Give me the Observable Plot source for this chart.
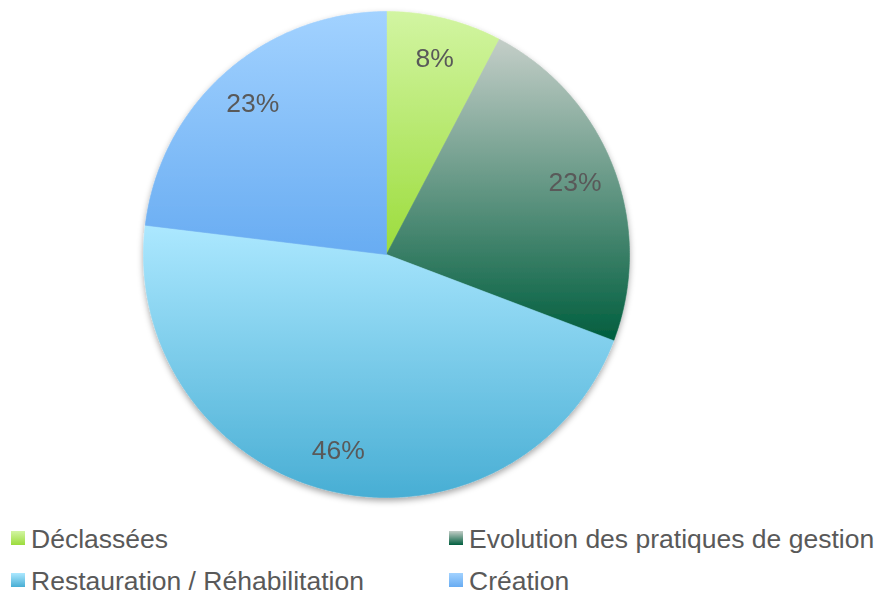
<!DOCTYPE html>
<html>
<head>
<meta charset="utf-8">
<script src="https://cdn.jsdelivr.net/npm/d3@7"></script>
<script src="https://cdn.jsdelivr.net/npm/@observablehq/plot@0.6"></script>
<style>
  html, body { margin: 0; padding: 0; background: #fff; }
  #wrap { position: relative; width: 880px; height: 594px; overflow: hidden; font-family: "Liberation Sans", Arial, sans-serif; }
  .leg { position: absolute; display: flex; align-items: flex-start; font-size: 26.5px; line-height: 26px; color: #595959; white-space: nowrap; }
  .sw { width: 14px; height: 14px; margin-top: 5px; margin-right: 6px; }
</style>
</head>
<body>
<div id="wrap"></div>
<script>
const categories = ["Déclassées", "Evolution des pratiques de gestion", "Restauration / Réhabilitation", "Création"];
const values = [1, 3, 6, 3];
const labels = ["8%", "23%", "46%", "23%"];
const gradTop = ["#d2f5a2", "#c4cec8", "#ace8ff", "#a2d2ff"];
const gradBottom = ["#9cdc3c", "#005e3e", "#48aed4", "#68acf2"];

const pie = d3.pie().sort(null).value(d => d.value).startAngle(0).endAngle(2 * Math.PI);
const arcs = pie(categories.map((c, i) => ({key: c, value: values[i], i})));

function slicePoints(a) {
  const pts = [{x: 0, y: 0}];
  const n = Math.max(4, Math.ceil((a.endAngle - a.startAngle) / 0.01));
  for (let k = 0; k <= n; k++) {
    const t = a.startAngle + (a.endAngle - a.startAngle) * k / n;
    pts.push({x: Math.sin(t), y: Math.cos(t)});
  }
  pts.push({x: 0, y: 0});
  return pts;
}

const labelData = arcs.map((a, i) => {
  const m = (a.startAngle + a.endAngle) / 2;
  return {x: 0.83 * Math.sin(m), y: 0.83 * Math.cos(m), text: labels[i]};
});

const cx = 386, cy = 254, R = 243;

const marks = arcs.map((a, i) => Plot.line(slicePoints(a), {
  x: "x", y: "y", fill: `url(#g${i})`, stroke: `url(#g${i})`, strokeWidth: 0.6, curve: "linear"
}));
marks.push(Plot.text(labelData, {
  x: "x", y: "y", text: "text", fill: "#595959", fontSize: 26.5,
  fontFamily: "Liberation Sans, Arial, sans-serif"
}));

const chart = Plot.plot({
  width: 880, height: 515,
  margin: 0,
  x: {domain: [-1, 1], range: [cx - R, cx + R], axis: null},
  y: {domain: [-1, 1], range: [cy + R, cy - R], axis: null},
  style: {background: "transparent", overflow: "visible"},
  marks
});

// defs: gradients + shadow
const ns = "http://www.w3.org/2000/svg";
const defs = document.createElementNS(ns, "defs");
categories.forEach((c, i) => {
  const lg = document.createElementNS(ns, "linearGradient");
  lg.setAttribute("id", "g" + i);
  lg.setAttribute("x1", "0"); lg.setAttribute("y1", "0");
  lg.setAttribute("x2", "0"); lg.setAttribute("y2", "1");
  [[0, gradTop[i]], [1, gradBottom[i]]].forEach(([o, col]) => {
    const s = document.createElementNS(ns, "stop");
    s.setAttribute("offset", o);
    s.setAttribute("stop-color", col);
    lg.appendChild(s);
  });
  defs.appendChild(lg);
});
const f = document.createElementNS(ns, "filter");
f.setAttribute("id", "shadow");
f.setAttribute("x", "-10%"); f.setAttribute("y", "-10%");
f.setAttribute("width", "120%"); f.setAttribute("height", "120%");
const ds = document.createElementNS(ns, "feDropShadow");
ds.setAttribute("dx", "0"); ds.setAttribute("dy", "3");
ds.setAttribute("stdDeviation", "3");
ds.setAttribute("flood-color", "#000");
ds.setAttribute("flood-opacity", "0.35");
f.appendChild(ds);
defs.appendChild(f);
chart.insertBefore(defs, chart.firstChild);

// group slices under one shadow
const lineGroups = Array.from(chart.querySelectorAll('g[aria-label="line"]'));
if (lineGroups.length) {
  const wrapG = document.createElementNS(ns, "g");
  wrapG.setAttribute("filter", "url(#shadow)");
  lineGroups[0].parentNode.insertBefore(wrapG, lineGroups[0]);
  lineGroups.forEach(g => wrapG.appendChild(g));
}

const wrap = document.getElementById("wrap");
chart.style.position = "absolute";
chart.style.left = "0px";
chart.style.top = "0px";
wrap.appendChild(chart);

// legend
const legPos = [[11, 526], [449, 526], [11, 567.5], [449, 567.5]];
categories.forEach((c, i) => {
  const d = document.createElement("div");
  d.className = "leg";
  d.style.left = legPos[i][0] + "px";
  d.style.top = legPos[i][1] + "px";
  const sw = document.createElement("div");
  sw.className = "sw";
  sw.style.background = `linear-gradient(to bottom, ${gradTop[i]}, ${gradBottom[i]})`;
  const t = document.createElement("span");
  t.textContent = c;
  d.appendChild(sw); d.appendChild(t);
  wrap.appendChild(d);
});
</script>
</body>
</html>
